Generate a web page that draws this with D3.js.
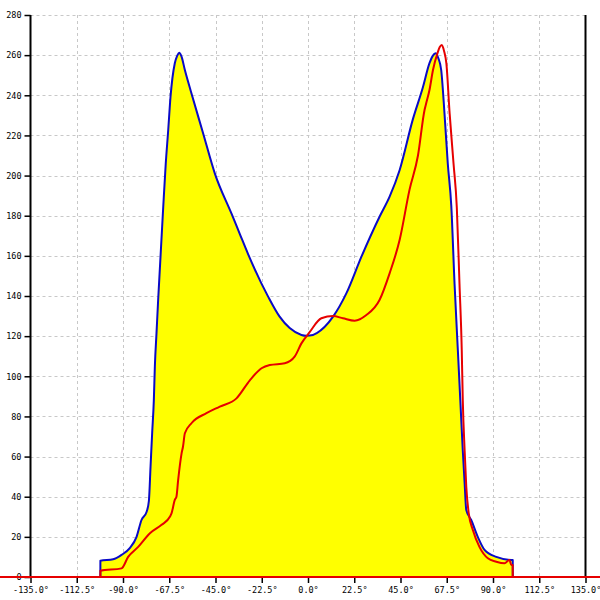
<!DOCTYPE html>
<html><head><meta charset="utf-8">
<script src="https://cdn.jsdelivr.net/npm/d3@7"></script>
<style>body{margin:0;background:#fff}svg{display:block}</style>
</head><body><svg id="c" width="600" height="600"></svg>
<script>
const xTicks = [-135, -112.5, -90, -67.5, -45, -22.5, 0, 22.5, 45, 67.5, 90, 112.5, 135];
const yTicks = [0, 20, 40, 60, 80, 100, 120, 140, 160, 180, 200, 220, 240, 260, 280];
const blueAngles = [-101.02, -101, -94.8, -90.7, -86.7, -83.4, -81.0, -78.5, -77.4, -76.6, -75.8, -75.0, -74.5, -73.7, -72.9, -70.5, -69.2, -68.0, -66.9, -64.8, -63.7, -62.7, -61.6, -59.9, -57.0, -51.0, -45.3, -37.2, -33.2, -29.2, -19.4, -13.8, -8.9, -3.2, -0.8, 2.4, 4.1, 12.2, 18.7, 26.0, 34.8, 39.7, 44.6, 51.0, 55.9, 59.1, 60.6, 62.1, 63.4, 64.8, 66.4, 68.0, 69.7, 71.3, 72.9, 74.1, 75.3, 76.2, 77.0, 79.4, 82.6, 85.9, 91.6, 98.9, 99.6, 99.62];
const blueValues = [0, 8.1, 8.8, 11, 14.4, 20, 28.4, 32.5, 38, 55, 72, 88, 105, 121.5, 138, 183, 206, 222.7, 239, 256, 259.5, 261.2, 259.5, 252.6, 242, 221, 201, 181, 171, 161, 139.7, 129.7, 124, 120.6, 120.2, 120.6, 121.4, 129.7, 141.4, 159.6, 179.5, 189.5, 202.8, 228, 244, 256, 259.5, 261, 258.5, 252.6, 231, 206, 185, 146, 113, 88, 63, 46.7, 33.4, 28.4, 20, 13.5, 10, 8.5, 8.5, 0];
const redAngles = [-101.02, -101, -90.7, -87.5, -82.6, -76.9, -71.2, -67.2, -66.4, -64.8, -64.0, -63.2, -61.5, -60.8, -59.9, -56.7, -49.4, -42.9, -34.8, -28.3, -22.6, -18.6, -11.3, -6.5, -3.2, 0.8, 6.5, 12.2, 17.0, 22.7, 28.4, 34.8, 39.7, 44.6, 49.4, 53.5, 56.7, 57.5, 59.1, 60.8, 63.0, 64.1, 65.1, 66.2, 67.3, 68.9, 70.8, 72.4, 73.7, 74.8, 75.3, 76.2, 77.0, 78.2, 80.2, 83.4, 87.5, 91.6, 95.6, 98.0, 98.9, 99.6, 99.62];
const redValues = [0, 3.1, 4.3, 10, 15, 21.8, 26, 30, 31.7, 38.4, 40, 48, 61.6, 65, 71.6, 76.6, 81.6, 84.9, 89, 98, 104, 105.6, 106.5, 109.8, 116.4, 122, 128.9, 130, 128.9, 127.7, 130.5, 138, 151.3, 168, 193, 210, 232.7, 236, 242.6, 252.6, 261, 264, 265, 262, 256, 231, 206, 184, 146, 113, 88, 63, 45, 31.7, 23.4, 15, 9.3, 7.6, 6.8, 8.5, 6, 6, 0];

const svg = d3.select('#c');
const x = d3.scaleLinear().domain([-135, 135]).range([30.5, 585.5]);
const y = d3.scaleLinear().domain([0, 280]).range([577, 15]);
const font = '"DejaVu Sans Mono", monospace';

// grid
svg.append('g').selectAll('line').data(yTicks.filter(d => d > 0)).join('line')
  .attr('x1', 30.5).attr('x2', 585.5).attr('y1', d => Math.round(y(d)) + 0.5).attr('y2', d => Math.round(y(d)) + 0.5)
  .attr('stroke', '#c8c8c8').attr('stroke-dasharray', '3,3');
svg.append('g').selectAll('line').data(xTicks.slice(1, -1)).join('line')
  .attr('y1', 15).attr('y2', 577).attr('x1', d => Math.round(x(d)) + 0.5).attr('x2', d => Math.round(x(d)) + 0.5)
  .attr('stroke', '#c8c8c8').attr('stroke-dasharray', '3,3');

const blue = blueAngles.map((a, i) => [a, blueValues[i]]);
const red = redAngles.map((a, i) => [a, redValues[i]]);
const curve = d3.curveMonotoneX;

svg.append('path').datum(blue)
  .attr('d', d3.area().curve(curve).x(d => x(d[0])).y0(y(0)).y1(d => y(d[1])))
  .attr('fill', '#ffff00');
svg.append('path').datum(blue)
  .attr('d', d3.line().curve(curve).x(d => x(d[0])).y(d => y(d[1])))
  .attr('fill', 'none').attr('stroke', '#0a0ac8').attr('stroke-width', 2).attr('stroke-linejoin', 'round');
svg.append('path').datum(red)
  .attr('d', d3.line().curve(curve).x(d => x(d[0])).y(d => y(d[1])))
  .attr('fill', 'none').attr('stroke', '#e60000').attr('stroke-width', 2).attr('stroke-linejoin', 'round');

// axes
const yAxis = svg.append('g').attr('transform', 'translate(30.5,0)')
  .call(d3.axisLeft(y).tickValues(yTicks).tickSize(6).tickPadding(3).tickFormat(d3.format('d')));
yAxis.select('.domain').attr('stroke', '#000').attr('stroke-width', 2).attr('d', 'M0,15V577');
yAxis.selectAll('.tick line').attr('stroke', '#000').attr('stroke-width', 1.5);
yAxis.selectAll('text').attr('font-family', font).attr('font-size', 8.5).attr('fill', '#000');

svg.append('line').attr('x1', 585.5).attr('x2', 585.5).attr('y1', 15).attr('y2', 577)
  .attr('stroke', '#000').attr('stroke-width', 2);

const xAxis = svg.append('g').attr('transform', 'translate(0,577)')
  .call(d3.axisBottom(x).tickValues(xTicks).tickSize(6).tickPadding(4).tickFormat(d => d.toFixed(1) + '°'));
xAxis.select('.domain').remove();
xAxis.selectAll('.tick line').attr('stroke', '#000').attr('stroke-width', 1.5);
xAxis.selectAll('text').attr('font-family', font).attr('font-size', 8.5).attr('fill', '#000');

// red baseline across full width
svg.append('line').attr('x1', 0).attr('x2', 600).attr('y1', y(0)).attr('y2', y(0))
  .attr('stroke', '#e60000').attr('stroke-width', 2);
</script></body></html>
